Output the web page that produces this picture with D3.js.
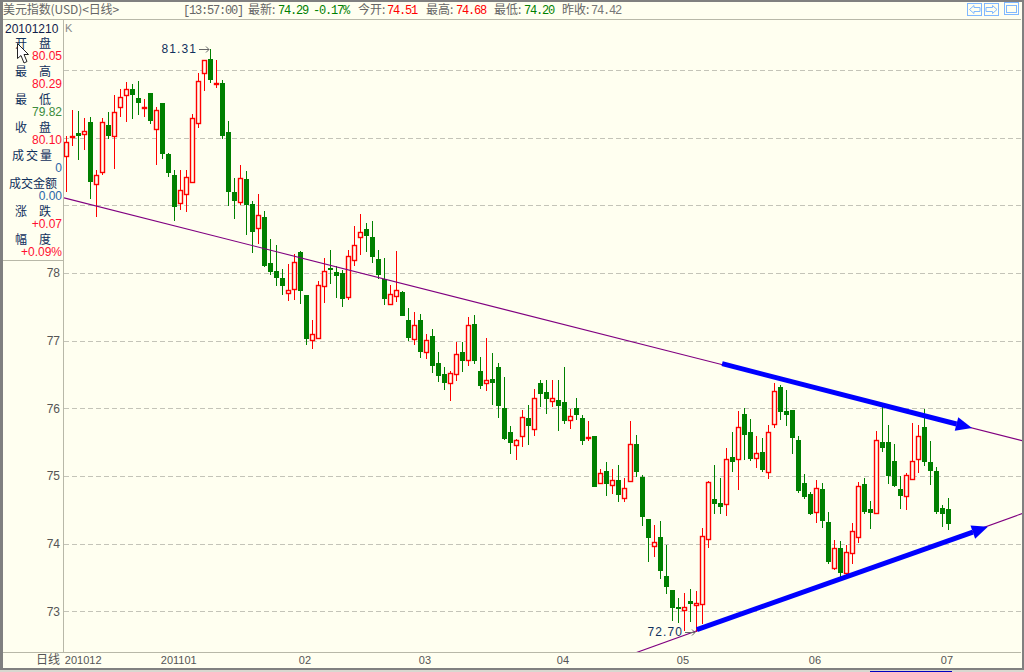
<!DOCTYPE html>
<html><head><meta charset="utf-8">
<style>html,body{margin:0;padding:0;background:#fffff0;overflow:hidden}svg{display:block}
text{font-family:"Liberation Sans",Arial,sans-serif;font-size:12px}
.m{font-family:"Liberation Mono","Noto Sans CJK SC",monospace;font-size:12px;letter-spacing:-1.2px}
.c{font-family:"Noto Sans CJK SC",sans-serif;font-size:12px}</style>
<script src="https://cdn.jsdelivr.net/npm/d3@7/dist/d3.min.js"></script></head><body><svg id="c" width="1024" height="672"></svg>
<script>
const opens=[79.73,80.01,80.07,80.05,80.23,79.31,79.49,80.19,80.02,80.45,80.63,80.72,80.59,80.45,80.66,80.13,80.51,79.76,79.45,79.04,79.17,79.34,80.22,80.96,81.16,80.80,80.81,80.08,79.20,79.05,79.39,79.02,78.67,78.83,78.15,78.03,77.93,77.70,77.76,78.31,77.68,77.01,77.04,77.81,78.07,78.01,78.00,77.65,78.19,78.53,78.65,78.53,78.21,77.91,77.54,77.66,77.72,77.31,77.02,77.31,76.83,77.07,76.67,76.51,76.37,76.51,76.83,76.71,77.25,76.55,76.37,76.43,76.61,76.01,75.65,75.46,75.59,75.86,75.70,76.38,76.24,76.11,76.12,76.10,75.83,76.01,75.86,75.56,75.59,74.90,75.08,74.87,74.94,74.68,74.93,75.47,74.99,74.37,73.97,74.10,73.52,73.32,73.07,73.02,73.15,73.10,73.11,74.07,74.66,74.60,74.59,75.28,75.25,75.92,75.65,75.27,75.36,75.06,75.77,76.32,75.96,75.98,75.53,74.90,74.74,74.47,74.81,74.32,73.64,73.94,73.57,73.86,74.10,74.88,74.51,74.46,75.50,75.50,75.22,74.81,74.71,74.96,75.25,75.72,75.21,75.07,74.53,74.51];
const highs=[80.02,80.41,80.39,80.29,80.31,79.52,80.29,80.38,80.63,80.72,80.82,80.79,80.84,80.57,80.66,80.45,80.51,79.77,79.52,79.52,79.52,80.35,80.96,81.15,81.31,81.15,80.85,80.25,79.40,79.60,79.51,79.06,79.17,78.92,78.50,78.41,78.06,78.13,78.28,78.32,77.68,77.30,77.88,78.22,78.34,78.10,78.04,78.34,78.70,78.87,78.74,78.77,78.34,78.22,77.82,78.33,77.74,77.48,77.42,77.39,77.10,77.17,76.83,76.61,76.55,76.98,76.98,77.35,77.38,76.76,77.04,76.82,76.67,76.46,75.74,75.55,75.98,76.05,76.29,76.42,76.42,76.42,76.42,76.61,75.99,76.15,75.90,75.81,75.59,75.10,75.21,75.10,75.16,74.97,75.81,75.61,75.02,74.37,74.28,74.34,73.98,73.32,73.20,73.27,73.33,73.30,74.23,74.93,75.16,74.97,75.41,75.65,75.96,76.01,75.84,75.59,75.56,75.75,76.38,76.35,76.27,75.98,75.59,75.03,74.77,74.94,74.90,74.47,74.06,74.04,73.98,74.31,74.91,74.97,74.63,75.67,76.02,75.75,75.47,75.00,75.05,75.78,75.75,75.99,75.52,75.13,74.57,74.68];
const lows=[79.20,79.88,79.67,79.82,79.09,78.83,79.45,79.98,79.54,80.31,80.23,80.28,80.34,80.31,80.20,79.60,79.69,79.42,78.77,78.93,78.90,79.33,80.14,80.69,80.81,80.73,79.98,78.99,78.80,79.00,78.56,78.30,78.43,78.09,77.97,77.81,77.68,77.59,77.60,77.54,76.94,76.88,77.02,77.56,77.84,77.63,77.50,77.60,78.10,78.27,78.31,78.15,77.91,77.53,77.54,77.57,77.36,77.00,76.94,76.74,76.73,76.52,76.39,76.27,76.11,76.40,76.54,76.63,76.66,76.29,76.26,76.05,75.86,75.53,75.33,75.24,75.43,75.46,75.59,76.02,75.92,76.02,75.67,75.77,75.70,75.83,75.46,75.52,74.84,74.88,74.71,74.74,74.62,74.62,74.91,74.99,74.26,73.73,73.80,73.48,73.26,72.86,72.83,72.71,72.84,72.70,72.81,73.94,74.44,74.44,74.41,75.06,74.79,75.24,75.22,75.12,75.06,74.96,75.71,75.83,75.74,75.33,74.75,74.66,74.43,74.31,74.23,73.70,73.61,73.51,73.54,73.70,74.01,74.44,74.22,74.44,75.36,74.88,74.84,74.51,74.50,74.96,75.05,75.15,74.87,74.44,74.25,74.20];
const closes=[79.94,80.02,80.02,80.10,79.34,79.45,80.23,80.02,80.38,80.60,80.72,80.63,80.51,80.46,80.25,80.41,79.76,79.48,78.98,79.23,79.42,80.29,80.84,81.15,80.85,80.81,80.02,79.20,79.06,79.40,79.00,78.61,78.86,78.10,78.01,77.93,77.81,77.75,78.16,77.73,77.03,77.10,77.82,78.03,78.04,77.96,77.62,78.25,78.41,78.61,78.55,78.24,77.97,77.62,77.69,77.75,77.36,77.04,77.23,76.83,77.01,76.63,76.48,76.37,76.52,76.80,76.70,77.23,76.70,76.33,76.42,76.37,76.04,75.55,75.49,75.53,75.87,75.74,76.15,76.21,76.14,76.15,76.04,75.81,75.89,75.90,75.52,75.58,74.84,75.05,74.88,74.94,74.72,74.82,75.47,75.06,74.40,74.09,74.03,73.60,73.36,73.05,73.04,73.07,73.11,73.13,74.11,74.91,74.59,74.54,75.25,75.21,75.73,75.61,75.25,75.34,75.09,75.65,76.26,75.95,75.90,75.56,74.78,74.69,74.44,74.82,74.34,73.73,73.94,73.57,73.88,74.19,74.85,74.47,74.46,75.53,75.41,75.00,74.85,74.71,75.02,75.22,75.59,75.21,75.07,74.47,74.44,74.29];
const priceTicks=[73,74,75,76,77,78];
const gridPrices=[73,74,75,76,77,78,79,80,81];
const monthIndex=[0,16,39,59,82,102,124,146];
const monthLabels=["201012","201101","02","03","04","05","06","07"];
const thinLines=[[-0.38,79.11,159.45,75.52],[94.95,72.39,159.45,74.45]];
const blueArrows=[[109.3,76.66,150.95,75.71],[105.1,72.73,153.6,74.25]];
const panelLabels=[["开　盘","80.05","#ff1030"],["最　高","80.29","#ff1030"],["最　低","79.82","#3c8c3c"],["收　盘","80.10","#ff1030"],["成交量","0","#2a66a8"],["成交金额","0.00","#2a66a8"],["涨　跌","+0.07","#ff1030"],["幅　度","+0.09%","#ff1030"]];
const quoteRow=[["[13:57:00]",183,"#666"],["最新:",248,"#666"],["74.29",278,"#008000"],["-0.17%",313,"#008000"],["今开:",358,"#666"],["74.51",387,"#f00"],["最高:",426,"#666"],["74.68",456,"#f00"],["最低:",494,"#666"],["74.20",524,"#008000"],["昨收:",562,"#666"],["74.42",591,"#777"]];

const svg=d3.select("#c");
const bg="#fffff0";
const x=d3.scaleLinear().domain([0,147]).range([66.3,948.3]);
const y=d3.scaleLinear().domain([73,78]).range([611.4,273]);
const col=i=>Math.floor(x(i));

// grid
svg.append("g").selectAll("line").data(gridPrices).join("line")
 .attr("x1",64).attr("x2",1021).attr("y1",d=>Math.round(y(d))+.5).attr("y2",d=>Math.round(y(d))+.5)
 .attr("stroke","#c4c4b8").attr("stroke-dasharray","5 3");

// candles
const candles=svg.append("g");
opens.forEach((o,i)=>{
 const c=closes[i],up=c>=o,color=up?"#ff0000":"#008000";
 candles.append("line").attr("shape-rendering","crispEdges").attr("x1",col(i)+.5).attr("x2",col(i)+.5).attr("y1",y(highs[i])).attr("y2",y(lows[i])).attr("stroke",color);
 const t=Math.round(y(Math.max(o,c))),b=Math.round(y(Math.min(o,c)));
 if(up) candles.append("rect").attr("x",col(i)-1.5).attr("width",4).attr("y",t+.5).attr("height",Math.max(b-t,1)).attr("fill",bg).attr("stroke",color).attr("stroke-width",1.4);
 else candles.append("rect").attr("shape-rendering","crispEdges").attr("x",col(i)-2).attr("width",5).attr("y",t).attr("height",Math.max(b-t,1)).attr("fill",color);
});

// trend lines (clipped to plot)
svg.append("clipPath").attr("id","p").append("rect").attr("x",64).attr("y",20).attr("width",958).attr("height",632);
svg.append("g").attr("clip-path","url(#p)").selectAll("line").data(thinLines).join("line")
 .attr("x1",d=>x(d[0])).attr("y1",d=>y(d[1])).attr("x2",d=>x(d[2])).attr("y2",d=>y(d[3]))
 .attr("stroke","#800080").attr("stroke-width",1.1);
blueArrows.forEach(d=>{
 const x1=x(d[0]),y1=y(d[1]),x2=x(d[2]),y2=y(d[3]),a=Math.atan2(y2-y1,x2-x1),L=16,W=7;
 const bx=x2-L*Math.cos(a),by=y2-L*Math.sin(a),nx=-Math.sin(a)*W,ny=Math.cos(a)*W;
 svg.append("line").attr("x1",x1).attr("y1",y1).attr("x2",bx).attr("y2",by).attr("stroke","#0000ff").attr("stroke-width",5);
 svg.append("path").attr("fill","#0000ff").attr("d",d3.line()([[x2,y2],[bx+nx,by+ny],[bx-nx,by-ny]])+"Z");
});

// extreme labels
function extreme(idx,val,tx,ty){
 svg.append("text").attr("x",tx).attr("y",ty+4).attr("text-anchor","end").attr("fill","#10305c").attr("letter-spacing","1.1px").text(val.toFixed(2));
 const ax=tx+2,bx=col(idx)-1;
 svg.append("path").attr("fill","none").attr("stroke","#666").attr("d",`M${ax} ${ty+.5}H${bx}M${bx-3} ${ty-2.5}L${bx} ${ty+.5}L${bx-3} ${ty+3.5}`);
}
extreme(24,highs[24],197,Math.round(y(highs[24])));
extreme(105,lows[105],683,Math.round(y(lows[105])));

// left panel cover
svg.append("rect").attr("x",3).attr("y",20).attr("width",60).attr("height",240).attr("fill",bg);

// axes
const ya=svg.append("g").attr("transform","translate(61,0)").call(d3.axisLeft(y).tickValues(priceTicks).tickSize(0).tickPadding(1).tickFormat(d3.format("d")));
ya.select(".domain").remove();ya.selectAll("text").attr("fill","#555").style("font-size","12px").style("font-family","'Liberation Sans'");
const xa=svg.append("g").attr("transform","translate(0,653)").call(d3.axisBottom(x).tickValues(monthIndex).tickSize(0).tickPadding(0).tickFormat((d,i)=>monthLabels[i]));
xa.select(".domain").remove();xa.selectAll("text").attr("text-anchor","start").attr("dx",-2).attr("dy",11).attr("fill","#555").style("font-size","11px").style("font-family","'Liberation Sans'");
svg.append("text").attr("class","c").attr("x",36).attr("y",664).attr("fill","#555").text("日线");

// frame
const frame=svg.append("g").attr("shape-rendering","crispEdges");
const seg=(a,b,c,d,s,w=1)=>frame.append("line").attr("x1",a).attr("y1",b).attr("x2",c).attr("y2",d).attr("stroke",s).attr("stroke-width",w);
seg(0,.5,1024,.5,"#808080",2);
seg(1,0,1,669,"#808080",3);
seg(1022.5,0,1022.5,669,"#808080",2);
seg(0,669,1024,669,"#808080",2);
seg(3,19.5,1021,19.5,"#b8b8a8");
seg(63.5,20,63.5,652,"#b8b8a8");
seg(3,652.5,1021,652.5,"#b8b8a8");
seg(3,260.5,63,260.5,"#b8b8a8");
frame.append("rect").attr("x",0).attr("y",670).attr("width",1024).attr("height",2).attr("fill","#d8d8d0");
frame.append("rect").attr("x",870).attr("y",671).attr("width",82).attr("height",1).attr("fill","#0000c0");

// top text
svg.append("text").attr("x",3).attr("y",14).attr("fill","#666").attr("class","c").style("letter-spacing","-.1px").text("美元指数(USD)<日线>");
svg.selectAll(".q").data(quoteRow).join("text").attr("class",d=>/[^\x00-\x7f]/.test(d[0])?"c":"m").attr("x",d=>d[1]).attr("y",14).attr("fill",d=>d[2]).text(d=>d[0]);

// panel text
svg.append("text").attr("x",5).attr("y",33).attr("fill","#10204c").text("20101210");
svg.append("text").attr("x",65).attr("y",32).attr("fill","#888").style("font-size","11px").text("K");
panelLabels.forEach((d,i)=>{
 const yy=48+i*28;
 svg.append("text").attr("class","c").attr("x",33).attr("y",yy).attr("text-anchor","middle").attr("fill","#10305c").style("letter-spacing",i===4?"2px":null).text(d[0]);
 svg.append("text").attr("x",62).attr("y",yy+12).attr("text-anchor","end").attr("fill",d[2]).text(d[1]);
});

// mouse pointer
svg.append("path").attr("fill","#fff").attr("stroke","#222").attr("d","M17.5 43.5V58.5L21 55.5L24 63L27 61.5L24 54.5H28.5Z");

// window buttons
const btn=svg.append("g").attr("fill","none").attr("stroke","#80b8ff").attr("shape-rendering","crispEdges");
btn.append("rect").attr("x",967.5).attr("y",3.5).attr("width",14).attr("height",12);
btn.append("rect").attr("x",984.5).attr("y",3.5).attr("width",14).attr("height",12);
btn.append("rect").attr("x",1004.5).attr("y",2.5).attr("width",14).attr("height",12);
btn.append("rect").attr("x",1006.5).attr("y",5.5).attr("width",10).attr("height",7);
btn.append("path").attr("shape-rendering","auto").attr("d","M969.5 9.5L974 5.5V7.5H980V11.5H974V13.5ZM997 9.5L992.5 5.5V7.5H986V11.5H992.5V13.5Z");
</script></body></html>
